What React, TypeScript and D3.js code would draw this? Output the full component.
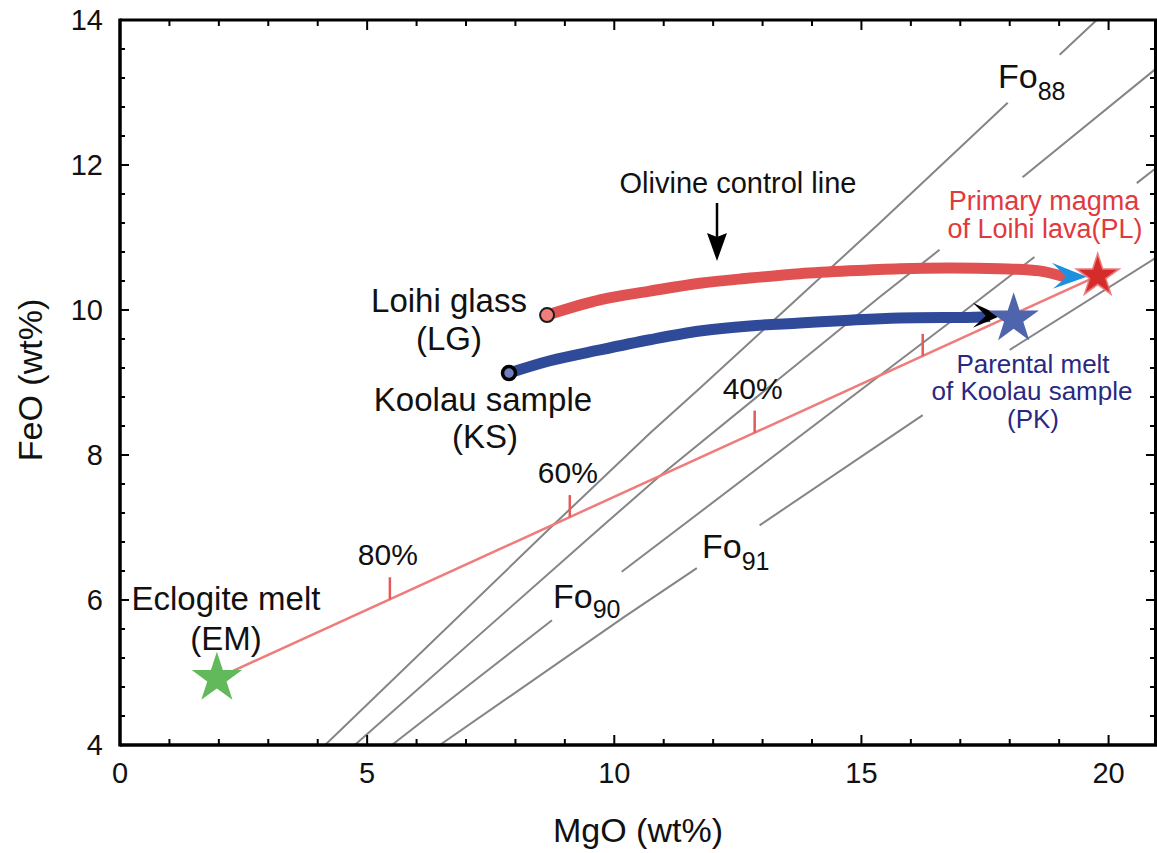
import React from 'react';
import * as d3 from 'd3';

type Pt = [number, number];

// ---- data (MgO wt%, FeO wt%) ----
const MGO_TICK_LABELS = [0, 5, 10, 15, 20];
const FEO_TICK_LABELS = [4, 6, 8, 10, 12, 14];

// Olivine isopleths (null = break in the line for a label)
const fo88: (Pt | null)[] = [[4.15, 4.0], [8.76, 7.03], [10.72, 8.3], [11.73, 8.92], [15.37, 11.2], [17.96, 12.86], null, [19.01, 13.52], [19.76, 14.0]];
const fo89: (Pt | null)[] = [[4.75, 4.0], [9.71, 6.99], [10.92, 7.71], [15.37, 10.18], [16.58, 10.83], null, [18.26, 11.83], [20.98, 13.34]];
const fo90: (Pt | null)[] = [[5.5, 4.0], [8.74, 5.72], null, [10.15, 6.39], [16.79, 9.83], [18.5, 10.73], null, [20.57, 11.75], [20.98, 11.97]];
const fo91: (Pt | null)[] = [[6.47, 4.0], [10.21, 5.77], [11.67, 6.44], null, [12.94, 7.03], [16.24, 8.55], null, [18.0, 9.45], [20.98, 10.73]];

// Olivine addition paths
const loihiPath: Pt[] = [[8.64, 9.93], [9.71, 10.14], [10.72, 10.26], [11.73, 10.37], [12.74, 10.44], [13.75, 10.5], [14.76, 10.54], [15.77, 10.57], [16.78, 10.58], [17.8, 10.57], [18.6, 10.54], [19.05, 10.47]];
const koolauPath: Pt[] = [[7.87, 9.13], [8.7, 9.3], [9.71, 9.45], [10.72, 9.59], [11.73, 9.71], [12.74, 9.78], [13.75, 9.82], [14.76, 9.86], [15.77, 9.89], [17.29, 9.9], [17.6, 9.91]];
const loihiArrowTip: Pt = [19.56, 10.46];
const koolauArrowTip: Pt = [17.82, 9.92];

// End members
const EM: Pt = [1.96, 4.92];
const PK: Pt = [18.08, 9.88];
const PL: Pt = [19.78, 10.47];

// Mixing-line ticks (MgO positions) and labels
const mixTickMgO = [5.46, 9.1, 12.84, 16.24];
const mixTickLabels = ['80%', '60%', '40%', ''];

const FONT = 'Arial, "Liberation Sans", Helvetica, sans-serif';

export default function App() {
  const W = 1157, H = 853;
  const L = 120, R = 1158, T = 20, B = 745;
  const x = d3.scaleLinear().domain([0, 21]).range([L, R]);
  const y = d3.scaleLinear().domain([4, 14]).range([B, T]);

  const gapLine = d3.line<Pt | null>()
    .defined((d) => d !== null)
    .x((d) => x((d as Pt)[0]))
    .y((d) => y((d as Pt)[1]));
  const smooth = d3.line<Pt>().x((d) => x(d[0])).y((d) => y(d[1])).curve(d3.curveCatmullRom.alpha(0.5));

  const starPath = (r: number) => d3.symbol().type(d3.symbolStar).size((r * r) / 0.8908130915292852)() as string;

  const xMinor = d3.range(1, 21, 1);
  const yMinor = d3.range(0, 26).map((i) => +(4 + i * 0.4).toFixed(1));

  const mixY = (m: number) => EM[1] + ((m - EM[0]) * (PL[1] - EM[1])) / (PL[0] - EM[0]);

  const arrowHead = (tip: Pt, color: string) => {
    const tx = x(tip[0]), ty = y(tip[1]);
    const p = d3.path();
    p.moveTo(tx, ty);
    p.lineTo(tx - 35, ty - 14);
    p.quadraticCurveTo(tx - 22, ty - 2, tx - 21, ty);
    p.quadraticCurveTo(tx - 22, ty + 2, tx - 34, ty + 12);
    p.closePath();
    return <path d={p.toString()} fill={color} />;
  };
  const arrowHeadSmall = (tip: Pt, color: string) => {
    const tx = x(tip[0]), ty = y(tip[1]);
    const p = d3.path();
    p.moveTo(tx, ty);
    p.lineTo(tx - 28, ty - 13);
    p.quadraticCurveTo(tx - 17, ty - 2, tx - 15, ty);
    p.quadraticCurveTo(tx - 17, ty + 2, tx - 28, ty + 12);
    p.closePath();
    return <path d={p.toString()} fill={color} />;
  };

  const foLines = [fo88, fo89, fo90, fo91];

  return (
    <svg width={W} height={H} style={{ position: 'absolute', left: 0, top: 0, display: 'block', background: '#fff' }} fontFamily={FONT}>
      <defs>
        <clipPath id="plotClip">
          <rect x={L} y={T} width={R - L} height={B - T} />
        </clipPath>
      </defs>
      <rect x={0} y={0} width={W} height={H} fill="#fff" />

      <g clipPath="url(#plotClip)">
        {foLines.map((ln, i) => (
          <path key={i} d={gapLine(ln) as string} fill="none" stroke="#858585" strokeWidth={2} />
        ))}
        {/* mixing line */}
        <line x1={x(EM[0])} y1={y(EM[1])} x2={x(PL[0])} y2={y(PL[1])} stroke="#ef7b7b" strokeWidth={2.5} />
        {mixTickMgO.map((m, i) => (
          <line key={i} x1={x(m)} x2={x(m)} y1={y(mixY(m))} y2={y(mixY(m)) - 22} stroke="#e25a5a" strokeWidth={2.5} />
        ))}
        {/* olivine addition curves */}
        <path d={smooth(loihiPath) as string} fill="none" stroke="#e05252" strokeWidth={11} strokeLinecap="round" />
        <path d={smooth(koolauPath) as string} fill="none" stroke="#2f4a98" strokeWidth={11} strokeLinecap="butt" />
        {arrowHead(loihiArrowTip, '#1e90e0')}
        {arrowHeadSmall(koolauArrowTip, '#000')}
        {/* points */}
        <circle cx={x(loihiPath[0][0])} cy={y(loihiPath[0][1])} r={7} fill="#ee7f7a" stroke="#1a1a1a" strokeWidth={2} />
        <circle cx={x(koolauPath[0][0])} cy={y(koolauPath[0][1])} r={6.5} fill="#6f7fc0" stroke="#000" strokeWidth={3.5} />
        {/* stars */}
        <path d={starPath(26.5)} transform={`translate(${x(EM[0])},${y(EM[1])})`} fill="#62b95b" />
        <path d={starPath(26.5)} transform={`translate(${x(PK[0])},${y(PK[1])})`} fill="#4e64ac" />
        <path d={starPath(25)} transform={`translate(${x(PL[0])},${y(PL[1])})`} fill="#e56a6a" opacity={0.85} />
        <path d={starPath(20)} transform={`translate(${x(PL[0])},${y(PL[1])})`} fill="#d62b2b" />
      </g>

      {/* frame */}
      <g fill="none" stroke="#000">
        <line x1={L} x2={1157} y1={T} y2={T} strokeWidth={3} />
        <line x1={L} x2={1157} y1={B} y2={B} strokeWidth={3.5} />
        <line x1={L} x2={L} y1={T - 1.5} y2={B + 1.5} strokeWidth={3.5} />
        <line x1={1155.5} x2={1155.5} y1={T} y2={B} strokeWidth={3} />
      </g>
      {/* ticks (all four sides, inward) */}
      <g stroke="#000" strokeWidth={2}>
        {xMinor.map((v) => {
          const major = v % 5 === 0;
          const len = major ? 10 : 6;
          return (
            <g key={v}>
              <line x1={x(v)} x2={x(v)} y1={B} y2={B - len} />
              <line x1={x(v)} x2={x(v)} y1={T} y2={T + len} />
            </g>
          );
        })}
        {yMinor.map((v) => {
          const major = Math.abs(v - Math.round(v)) < 1e-6 && Math.round(v) % 2 === 0;
          const len = major ? 9 : 5;
          return (
            <g key={v}>
              <line x1={L} x2={L + len} y1={y(v)} y2={y(v)} />
              <line x1={1155} x2={1155 - len} y1={y(v)} y2={y(v)} />
            </g>
          );
        })}
      </g>
      {/* tick labels */}
      <g fontSize={29} fill="#111">
        {MGO_TICK_LABELS.map((v) => (
          <text key={v} x={x(v)} y={783} textAnchor="middle">{v}</text>
        ))}
        {FEO_TICK_LABELS.map((v) => (
          <text key={v} x={103} y={y(v) + 10} textAnchor="end">{v}</text>
        ))}
      </g>
      {/* axis titles */}
      <text x={638} y={842} textAnchor="middle" fontSize={34} fill="#111">MgO (wt%)</text>
      <text transform="translate(42,380) rotate(-90)" textAnchor="middle" fontSize={34} fill="#111">FeO (wt%)</text>

      {/* annotations */}
      <g fill="#111" textAnchor="middle">
        <text x={226} y={610} fontSize={33}>Eclogite melt</text>
        <text x={226} y={650} fontSize={33}>(EM)</text>
        <text x={449} y={312} fontSize={33}>Loihi glass</text>
        <text x={449} y={350} fontSize={33}>(LG)</text>
        <text x={483} y={411} fontSize={33}>Koolau sample</text>
        <text x={485} y={448} fontSize={33}>(KS)</text>
        <text x={738} y={193} fontSize={29}>Olivine control line</text>
      </g>
      {/* olivine control arrow */}
      <line x1={717} x2={717} y1={203} y2={240} stroke="#000" strokeWidth={2.5} />
      <path d="M707,233 L717,237 L727,233 L717,261 Z" fill="#000" />

      <g fill="#e03a3e" textAnchor="middle" fontSize={27}>
        <text x={1044} y={210}>Primary magma</text>
        <text x={1045} y={238}>of Loihi lava(PL)</text>
      </g>
      <g fill="#2a2880" textAnchor="middle" fontSize={26}>
        <text x={1033} y={373}>Parental melt</text>
        <text x={1032} y={400}>of Koolau sample</text>
        <text x={1033} y={428}>(PK)</text>
      </g>
      <g fill="#111" textAnchor="middle" fontSize={30}>
        {mixTickMgO.map((m, i) =>
          mixTickLabels[i] ? (
            <text key={i} x={x(m) - 2} y={y(mixY(m)) - 34}>{mixTickLabels[i]}</text>
          ) : null
        )}
      </g>
      {/* Fo labels */}
      <g fill="#111" fontSize={34}>
        <text x={998} y={88}>Fo<tspan fontSize={25} dy={12}>88</tspan></text>
        <text x={553} y={608}>Fo<tspan fontSize={25} dy={10}>90</tspan></text>
        <text x={702} y={558}>Fo<tspan fontSize={25} dy={12}>91</tspan></text>
      </g>
    </svg>
  );
}
